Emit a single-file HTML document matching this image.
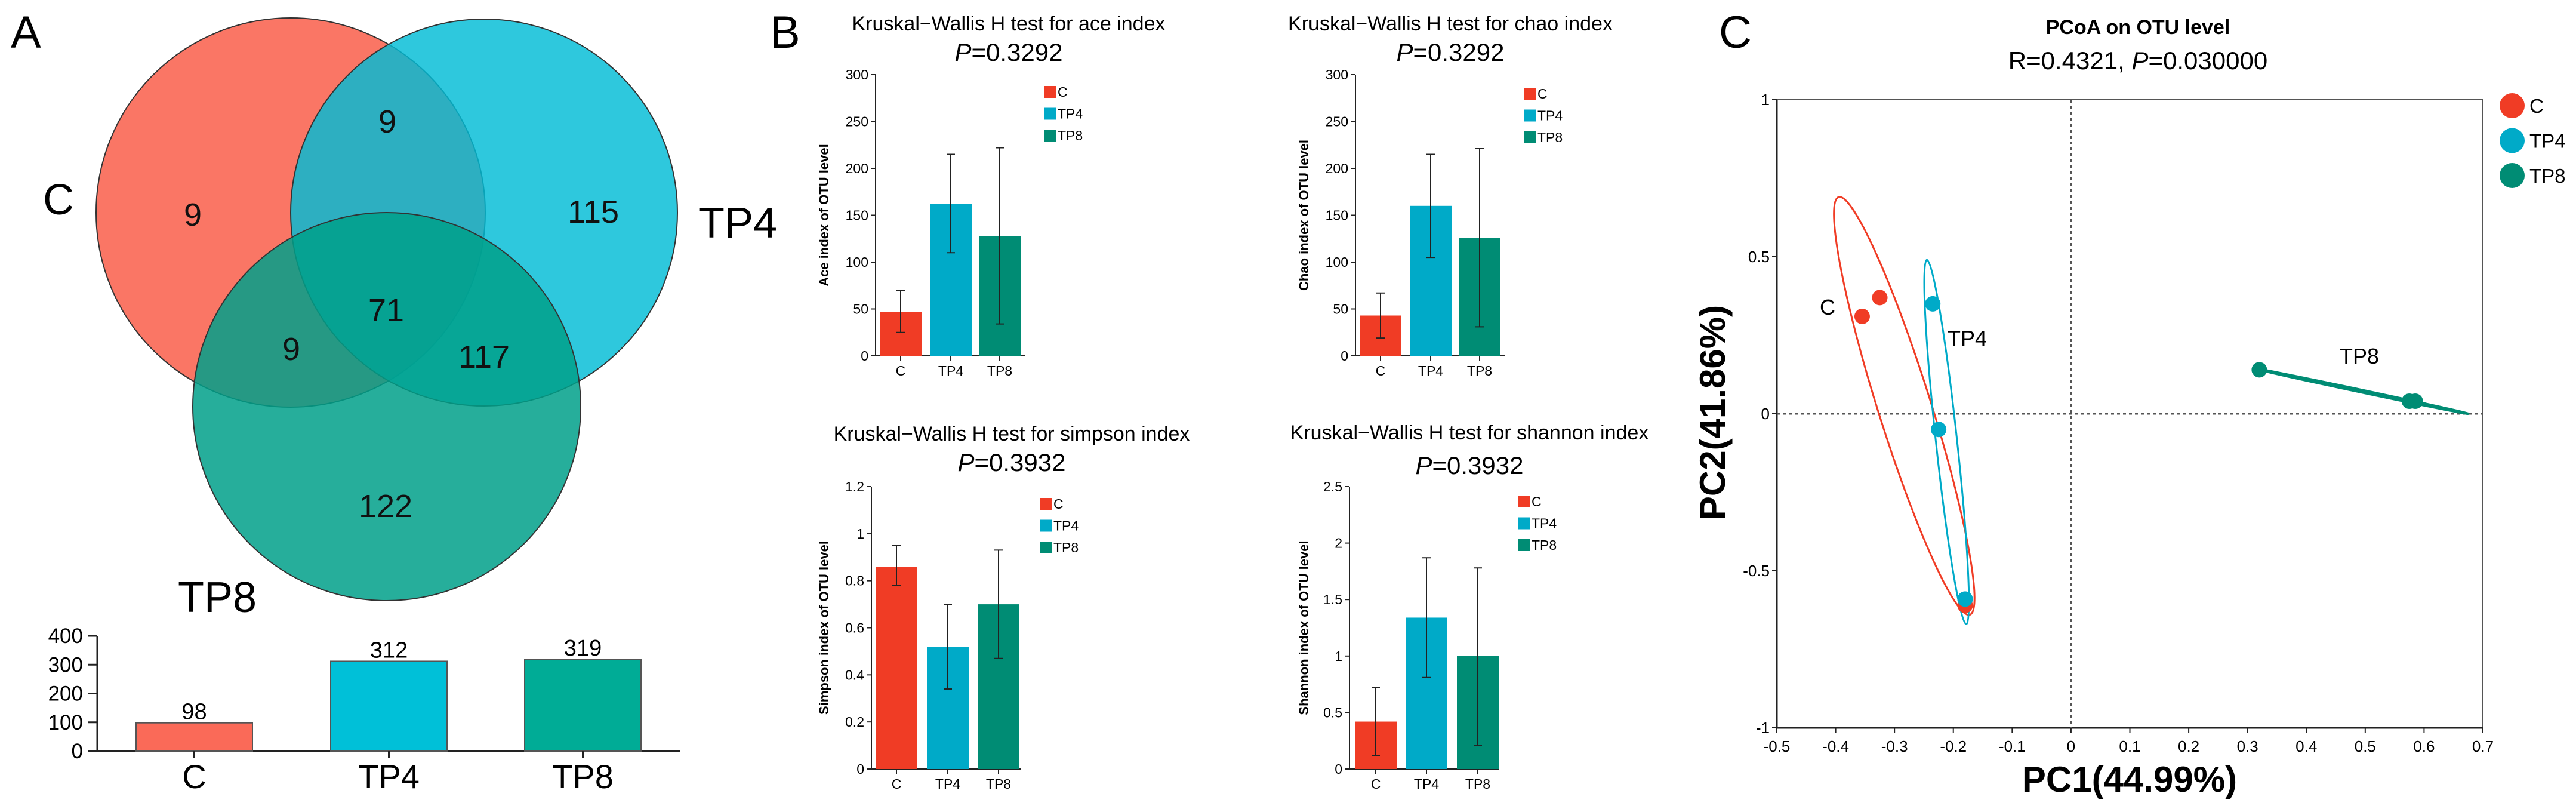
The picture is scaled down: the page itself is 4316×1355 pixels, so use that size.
<!DOCTYPE html>
<html><head><meta charset="utf-8"><style>
html,body{margin:0;padding:0;background:#fff;}
svg{display:block;font-family:"Liberation Sans",Arial,sans-serif;}
</style></head><body>
<svg id="fig" width="4316" height="1355" viewBox="0 0 4316 1355" xmlns="http://www.w3.org/2000/svg">
<g id="panelA">
<text x="18" y="80" font-size="76">A</text>
<circle cx="487" cy="356" r="326" fill="#fa6a58" fill-opacity="0.92" stroke="#333" stroke-width="2"/>
<circle cx="811" cy="356" r="324" fill="#00bcd6" fill-opacity="0.82" stroke="#333" stroke-width="2"/>
<circle cx="648" cy="681" r="325" fill="#00a08a" fill-opacity="0.85" stroke="#333" stroke-width="2"/>
<g font-size="54" text-anchor="middle" fill="#111">
<text x="323" y="378">9</text>
<text x="649" y="222">9</text>
<text x="994" y="373">115</text>
<text x="647" y="538">71</text>
<text x="488" y="603">9</text>
<text x="811" y="616">117</text>
<text x="646" y="866">122</text>
</g>
<text x="72" y="359" font-size="72">C</text>
<text x="1170" y="398" font-size="72">TP4</text>
<text x="298" y="1025" font-size="72">TP8</text>
<g id="sizeBars"></g>
</g>
<g id="panelB">
<text x="1290" y="80" font-size="76">B</text>
</g>
<g id="panelC">
<text x="2880" y="80" font-size="76">C</text>
</g>
</svg>
<script>
// ---- Panel A bar data ----
const setNames = ["C","TP4","TP8"];
const setSizes = [98,312,319];
const setTicks = [0,100,200,300,400];
// ---- Panel B data ----
const groups = ["C","TP4","TP8"];
const aceMean = [47,162,128];
const aceLow = [25,110,34];
const aceHigh = [70,215,222];
const chaoMean = [43,160,126];
const chaoLow = [19,105,31];
const chaoHigh = [67,215,221];
const simpsonMean = [0.86,0.52,0.70];
const simpsonLow = [0.78,0.34,0.47];
const simpsonHigh = [0.95,0.70,0.93];
const shannonMean = [0.42,1.34,1.0];
const shannonLow = [0.12,0.81,0.21];
const shannonHigh = [0.72,1.87,1.78];
const ticks300 = [0,50,100,150,200,250,300];
const ticks12 = [0,0.2,0.4,0.6,0.8,1,1.2];
const ticks25 = [0,0.5,1,1.5,2,2.5];
// ---- Panel C data ----
const pcoaGroups = ["C","C","C","TP4","TP4","TP4","TP8","TP8","TP8"];
const pc1 = [-0.355,-0.325,-0.18,-0.235,-0.225,-0.18,0.32,0.575,0.585];
const pc2 = [0.31,0.37,-0.61,0.35,-0.05,-0.59,0.14,0.04,0.04];
const ellipseGroups = ["C","TP4","TP8"];
const ellipseEnd1X = [-0.395,-0.245,0.31];
const ellipseEnd1Y = [0.69,0.49,0.145];
const ellipseEnd2X = [-0.172,-0.178,0.675];
const ellipseEnd2Y = [-0.64,-0.67,0.0];
const ellipseWidth = [0.045,0.018,0.002];
const pcXTicks = [-0.5,-0.4,-0.3,-0.2,-0.1,0,0.1,0.2,0.3,0.4,0.5,0.6,0.7];
const pcYTicks = [-1,-0.5,0,0.5,1];

const NS="http://www.w3.org/2000/svg";
function mk(parent,tag,attrs,text){const e=document.createElementNS(NS,tag);for(const k in attrs)e.setAttribute(k,attrs[k]);if(text!==undefined)e.textContent=text;parent.appendChild(e);return e;}
const colB={C:"#f03c25",TP4:"#00aac8",TP8:"#008c74"};

// Panel A bar chart
(function(){
 const g=document.getElementById('sizeBars');
 const x0=163,y0=1258,yTop=1065,vmax=400;
 const ys=v=>y0-(v/vmax)*(y0-yTop);
 const barX=[228,554,879],bw=195;
 const fills=["#fa6a58","#00c0d8","#00ac96"];
 let ax=mk(g,'line',{x1:x0,y1:yTop,x2:x0,y2:y0,stroke:'#222','stroke-width':3});
 
 let bx=mk(g,'line',{x1:x0-16,y1:y0,x2:1139,y2:y0,stroke:'#222','stroke-width':3});
 
 setTicks.forEach(t=>{mk(g,'line',{x1:x0-16,y1:ys(t),x2:x0,y2:ys(t),stroke:'#222','stroke-width':3});
  const tl=mk(g,'text',{x:x0-24,y:ys(t)+12,'font-size':35,'text-anchor':'end'},t);
  });
 setSizes.forEach((v,i)=>{
  const r=mk(g,'rect',{x:barX[i],y:ys(v),width:bw,height:y0-ys(v),fill:fills[i],stroke:'#555','stroke-width':2});
  
  const t=mk(g,'text',{x:barX[i]+bw/2,y:ys(v)-6,'font-size':38,'text-anchor':'middle'},v);
  
  mk(g,'line',{x1:barX[i]+bw/2,y1:y0,x2:barX[i]+bw/2,y2:y0+12,stroke:'#222','stroke-width':3});
  const l=mk(g,'text',{x:barX[i]+bw/2,y:1320,'font-size':56,'text-anchor':'middle'},setNames[i]);
  
 });
})();

// Panel B
function kwChart(o){
 const g=mk(document.getElementById('panelB'),'g',{});
 
 const ys=v=>o.y0-(v/o.vmax)*(o.y0-o.yTop);
 const t1=mk(g,'text',{x:o.cx,y:o.ty,'font-size':34,'text-anchor':'middle'},'Kruskal\u2212Wallis H test for '+o.name+' index');
 
 const t2=mk(g,'text',{x:o.cx,y:o.py,'font-size':42,'text-anchor':'middle'});
 
 mk(t2,'tspan',{'font-style':'italic'},'P');mk(t2,'tspan',{},'='+o.p);
 mk(g,'line',{x1:o.x0,y1:o.yTop,x2:o.x0,y2:o.y0,stroke:'#222','stroke-width':2});
 mk(g,'line',{x1:o.x0,y1:o.y0,x2:o.x0+250,y2:o.y0,stroke:'#222','stroke-width':2});
 o.ticks.forEach(t=>{mk(g,'line',{x1:o.x0-8,y1:ys(t),x2:o.x0,y2:ys(t),stroke:'#222','stroke-width':2});
  const tl=mk(g,'text',{x:o.x0-12,y:ys(t)+8,'font-size':23,'text-anchor':'end'},t);
  });
 const yl=mk(g,'text',{x:0,y:0,'font-size':22,'font-weight':'bold','text-anchor':'middle',transform:`translate(${o.ytx},${(o.y0+o.yTop)/2}) rotate(-90)`},o.ylab);
 
 groups.forEach((gr,i)=>{
  const bx=o.bx[i],bw=70,v=o.mean[i];
  const r=mk(g,'rect',{x:bx,y:ys(v),width:bw,height:o.y0-ys(v),fill:colB[gr]});
  
  const cx=bx+bw/2;
  const e=mk(g,'path',{d:`M${cx},${ys(o.low[i])}V${ys(o.high[i])}M${cx-7},${ys(o.low[i])}H${cx+7}M${cx-7},${ys(o.high[i])}H${cx+7}`,stroke:'#222','stroke-width':2,fill:'none'});
  
  mk(g,'line',{x1:cx,y1:o.y0,x2:cx,y2:o.y0+8,stroke:'#222','stroke-width':2});
  const xl=mk(g,'text',{x:cx,y:o.y0+33,'font-size':23,'text-anchor':'middle'},gr);
  
  const ls=mk(g,'rect',{x:o.x0+282,y:o.ly+i*36.5-10,width:21,height:20,fill:colB[gr]});
  
  const lt=mk(g,'text',{x:o.x0+305,y:o.ly+i*36.5+8,'font-size':23},gr);
  
 });
}
kwChart({name:'ace',cx:1690,ty:51,py:102,p:'0.3292',x0:1467,y0:596,yTop:125,vmax:300,ticks:ticks300,mean:aceMean,low:aceLow,high:aceHigh,bx:[1474,1558,1640],ly:154,ytx:1388,ylab:'Ace index of OTU level'});
kwChart({name:'chao',cx:2430,ty:51,py:102,p:'0.3292',x0:2271,y0:596,yTop:125,vmax:300,ticks:ticks300,mean:chaoMean,low:chaoLow,high:chaoHigh,bx:[2278,2362,2444],ly:157,ytx:2192,ylab:'Chao index of OTU level'});
kwChart({name:'simpson',cx:1695,ty:738,py:789,p:'0.3932',x0:1460,y0:1288,yTop:815,vmax:1.2,ticks:ticks12,mean:simpsonMean,low:simpsonLow,high:simpsonHigh,bx:[1467,1553,1638],ly:844,ytx:1388,ylab:'Simpson index of OTU level'});
kwChart({name:'shannon',cx:2462,ty:736,py:794,p:'0.3932',x0:2261,y0:1288,yTop:815,vmax:2.5,ticks:ticks25,mean:shannonMean,low:shannonLow,high:shannonHigh,bx:[2270,2355,2441],ly:840,ytx:2192,ylab:'Shannon index of OTU level'});

// Panel C
(function(){
 const g=document.getElementById('panelC');
 const L=2977,R=4160,T=167,B=1219;
 const xs=v=>L+(v+0.5)/1.2*(R-L);
 const ys=v=>B-(v+1)/2*(B-T);
 const col={C:"#f03c25",TP4:"#00aac8",TP8:"#008c74"};
 const t1=mk(g,'text',{x:3582,y:57,'font-size':34,'font-weight':'bold','text-anchor':'middle'},'PCoA on OTU level');
 
 const t2=mk(g,'text',{x:3582,y:116,'font-size':42,'text-anchor':'middle'});
 
 mk(t2,'tspan',{},'R=0.4321, ');mk(t2,'tspan',{'font-style':'italic'},'P');mk(t2,'tspan',{},'=0.030000');
 const box=mk(g,'rect',{x:L,y:T,width:R-L,height:B-T,fill:'none',stroke:'#555','stroke-width':2});
 
 mk(g,'line',{x1:L,y1:B,x2:R,y2:B,stroke:'#222','stroke-width':3});
 mk(g,'line',{x1:L,y1:T,x2:L,y2:B,stroke:'#222','stroke-width':3});
 mk(g,'line',{x1:L,y1:ys(0),x2:R,y2:ys(0),stroke:'#555','stroke-width':3,'stroke-dasharray':'5,5'});
 mk(g,'line',{x1:xs(0),y1:T,x2:xs(0),y2:B,stroke:'#555','stroke-width':3,'stroke-dasharray':'5,5'});
 pcXTicks.forEach(t=>{mk(g,'line',{x1:xs(t),y1:B,x2:xs(t),y2:B+8,stroke:'#222','stroke-width':2});
  const tl=mk(g,'text',{x:xs(t),y:B+40,'font-size':26,'text-anchor':'middle'},t);
  });
 pcYTicks.forEach(t=>{mk(g,'line',{x1:L-8,y1:ys(t),x2:L,y2:ys(t),stroke:'#222','stroke-width':2});
  const tl=mk(g,'text',{x:L-12,y:ys(t)+9,'font-size':26,'text-anchor':'end'},t);
  });
 const xl=mk(g,'text',{x:3568,y:1326,'font-size':60,'font-weight':'bold','text-anchor':'middle'},'PC1(44.99%)');
 
 const yl=mk(g,'text',{x:0,y:0,'font-size':60,'font-weight':'bold','text-anchor':'middle',transform:'translate(2890,691) rotate(-90)'},'PC2(41.86%)');
 
 ellipseGroups.forEach((gr,i)=>{
  const x1=xs(ellipseEnd1X[i]),y1=ys(ellipseEnd1Y[i]),x2=xs(ellipseEnd2X[i]),y2=ys(ellipseEnd2Y[i]);
  const cx=(x1+x2)/2,cy=(y1+y2)/2,a=Math.hypot(x2-x1,y2-y1)/2,ang=Math.atan2(y2-y1,x2-x1)*180/Math.PI;
  const b=ellipseWidth[i]/1.2*(R-L);
  const el=mk(g,'ellipse',{cx:cx,cy:cy,rx:a,ry:b,transform:`rotate(${ang} ${cx} ${cy})`,fill:'none',stroke:col[gr],'stroke-width':gr==='TP8'?4:3});
  
 });
 pc1.forEach((v,i)=>{
  const c=mk(g,'circle',{cx:xs(v),cy:ys(pc2[i]),r:13,fill:col[pcoaGroups[i]]});
  
 });
 [["C",3062,527],["TP4",3263,579],["TP8",3920,609]].forEach(a=>{
  const t=mk(g,'text',{x:a[1],y:a[2],'font-size':36,'text-anchor':a[0]==='C'?'middle':'start'},a[0]);
  
 });
 ["C","TP4","TP8"].forEach((gr,i)=>{
  const c=mk(g,'circle',{cx:4209,cy:177+i*58.5,r:21,fill:col[gr]});
  
  const t=mk(g,'text',{x:4238,y:177+i*58.5+12,'font-size':33},gr);
  
 });
})();
</script>
</body></html>
